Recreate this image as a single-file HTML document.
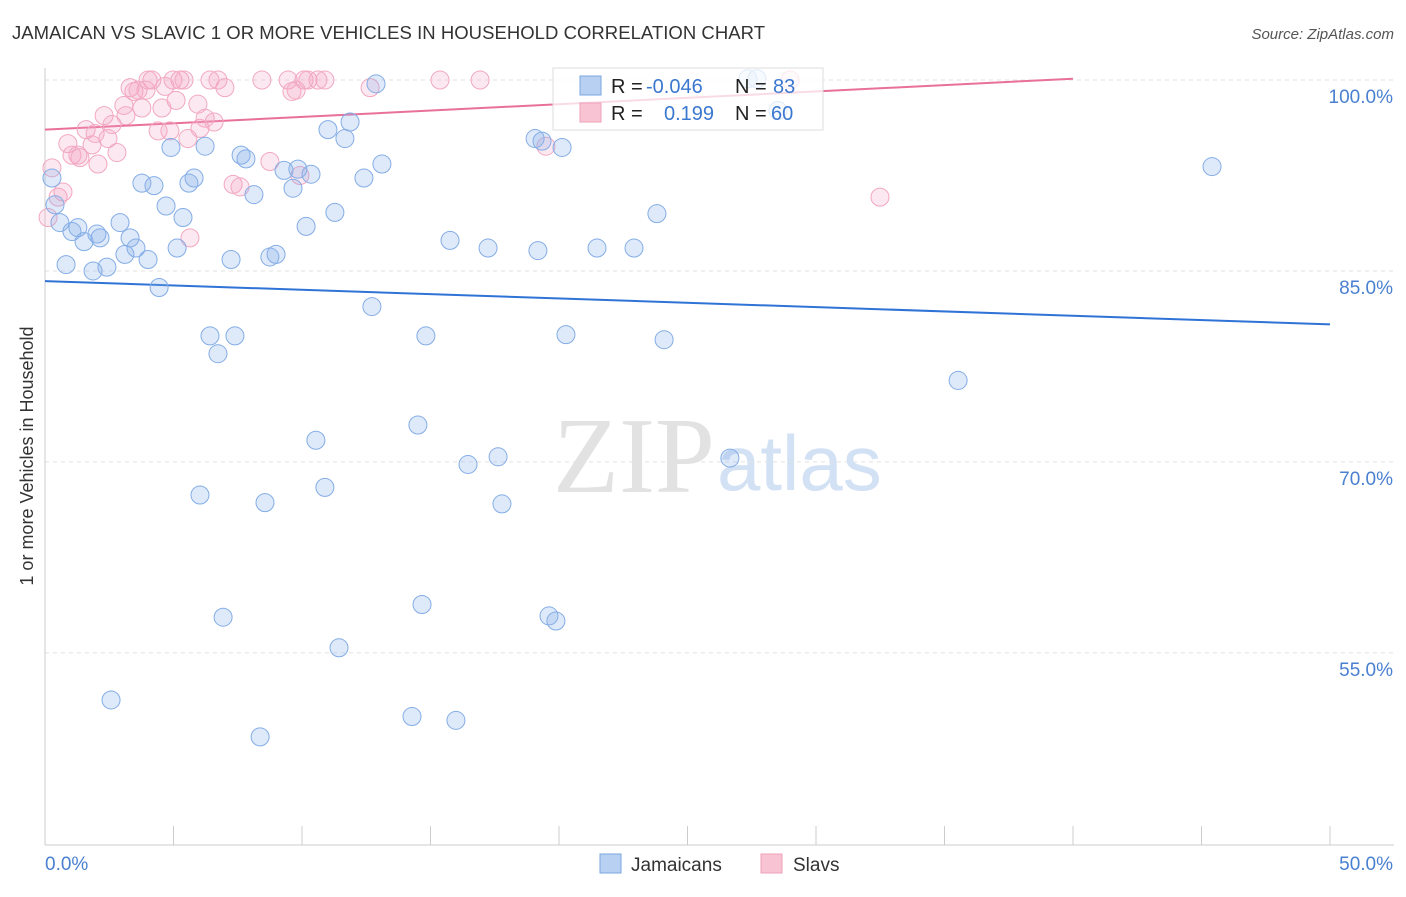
<!DOCTYPE html>
<html><head><meta charset="utf-8"><style>
body{margin:0;background:#fff;font-family:"Liberation Sans",sans-serif}
</style></head><body>
<svg width="1406" height="892" xmlns="http://www.w3.org/2000/svg" font-family="Liberation Sans, sans-serif">
<text x="12" y="39" font-size="18.5" fill="#333" textLength="753">JAMAICAN VS SLAVIC 1 OR MORE VEHICLES IN HOUSEHOLD CORRELATION CHART</text>
<text x="1394" y="39" font-size="15" fill="#555" text-anchor="end" font-style="italic">Source: ZipAtlas.com</text>
<text x="33" y="456" font-size="18" fill="#333" text-anchor="middle" transform="rotate(-90 33 456)">1 or more Vehicles in Household</text>
<text x="715" y="492" font-size="108" fill="#e2e2e2" text-anchor="end" font-family="Liberation Serif, serif">ZIP</text>
<text x="717" y="490" font-size="78" fill="#d3e1f5">atlas</text>
<g id="grid"></g><g id="axes"></g><g id="trend"></g><g id="pts"></g>
<g>
<rect x="553" y="68" width="270" height="62" fill="rgba(255,255,255,0.75)" stroke="#ddd"/>
<rect x="580" y="76" width="21" height="19" fill="#b8d0f2" stroke="#7aa7e0"/>
<rect x="580" y="103" width="21" height="19" fill="#f8c4d3" stroke="#f0a0b8"/>
<text x="611" y="93" font-size="20" fill="#222">R = <tspan fill="#3a78d0" x="646">-0.046</tspan></text>
<text x="735" y="93" font-size="20" fill="#222">N = <tspan fill="#3a78d0" x="773">83</tspan></text>
<text x="611" y="120" font-size="20" fill="#222">R = <tspan fill="#3a78d0" x="664">0.199</tspan></text>
<text x="735" y="120" font-size="20" fill="#222">N = <tspan fill="#3a78d0" x="771">60</tspan></text>
</g>
<g>
<rect x="600" y="854" width="21" height="19" fill="#b8d0f2" stroke="#7aa7e0"/>
<text x="631" y="871" font-size="19" fill="#333">Jamaicans</text>
<rect x="761" y="854" width="21" height="19" fill="#f8c4d3" stroke="#f0a0b8"/>
<text x="793" y="871" font-size="19" fill="#333">Slavs</text>
</g>
</svg>
<script>
const yTicks=[100,85,70,55];
const xTickLabels=["0.0%","50.0%"];
const blueX=[0.27,0.39,0.58,0.82,1.05,1.28,1.52,1.87,2.02,2.14,2.41,2.57,2.92,3.11,3.31,3.54,3.77,4.01,4.24,4.44,4.71,4.90,5.14,5.37,5.60,5.80,6.03,6.23,6.42,6.73,6.93,7.24,7.39,7.63,7.82,8.13,8.37,8.56,8.75,8.99,9.30,9.65,9.84,10.16,10.35,10.54,10.89,11.01,11.28,11.44,11.67,11.87,12.41,12.72,12.88,13.11,14.28,14.51,14.67,14.82,15.76,15.99,16.46,17.24,17.63,17.78,19.07,19.18,19.34,19.61,19.88,20.12,20.27,21.48,22.92,23.81,24.09,26.65,35.53,45.41,27.35,27.70,28.52];
const blueY=[92.3,90.2,88.8,85.5,88.1,88.4,87.3,85.0,87.9,87.6,85.3,51.3,88.8,86.3,87.6,86.8,91.9,85.9,91.7,83.7,90.1,94.7,86.8,89.2,91.9,92.3,67.4,94.8,79.9,78.5,57.8,85.9,79.9,94.1,93.8,91.0,48.4,66.8,86.1,86.3,92.9,91.5,93.0,88.5,92.6,71.7,68.0,96.1,89.6,55.4,95.4,96.7,92.3,82.2,99.7,93.4,50.0,72.9,58.8,79.9,87.4,49.7,69.8,86.8,70.4,66.7,95.4,86.6,95.2,57.9,57.5,94.7,80.0,86.8,86.8,89.5,79.6,70.3,76.4,93.2,100.1,100.1,97.6];
const pinkX=[0.12,0.27,0.51,0.70,0.89,1.05,1.28,1.36,1.60,1.83,1.95,2.06,2.30,2.45,2.61,2.80,3.07,3.15,3.31,3.46,3.62,3.77,3.93,4.01,4.16,4.40,4.55,4.67,4.86,4.98,5.10,5.25,5.41,5.56,5.64,5.95,6.03,6.23,6.42,6.58,6.73,7.00,7.32,7.59,8.44,8.75,9.46,9.61,9.77,9.92,10.08,10.23,10.62,10.89,12.65,15.37,16.93,19.49,32.49,28.99];
const pinkY=[89.2,93.1,90.8,91.2,95.0,94.1,94.1,93.9,96.1,94.9,95.8,93.4,97.2,95.4,96.5,94.3,98.0,97.2,99.4,99.1,99.2,97.8,99.2,100.0,100.0,96.0,97.8,99.5,96.0,100.0,98.4,100.0,100.0,95.4,87.6,98.1,96.2,97.0,100.0,96.7,100.0,99.4,91.8,91.6,100.0,93.6,100.0,99.1,99.2,92.5,100.0,100.0,100.0,100.0,99.4,100.0,100.0,94.8,90.8,100.0];
const blueTrend=[[0,84.2],[50,80.8]];
const pinkTrend=[[0,96.1],[40,100.1]];
const X=v=>45+v*25.7, Y=v=>80+(100-v)*12.73;
const NS="http://www.w3.org/2000/svg";
function mk(t,a,p){const e=document.createElementNS(NS,t);for(const k in a)e.setAttribute(k,a[k]);document.getElementById(p).appendChild(e);return e;}
yTicks.forEach(v=>{
 const l=mk('line',{x1:45,x2:1394,y1:Y(v),y2:Y(v),stroke:'#e2e2e2','stroke-dasharray':'4,4'},'grid');
 
 
 const t=mk('text',{x:1393,y:Y(v)+23,'font-size':19,fill:'#4a80d0','text-anchor':'end'},'grid');
 t.textContent=v.toFixed(1)+'%';
 
 
});
const ax=mk('line',{x1:45,x2:1394,y1:845,y2:845,stroke:'#ccc'},'axes');


const ay=mk('line',{x1:45,x2:45,y1:68,y2:845,stroke:'#ccc'},'axes');


for(let i=0;i<=10;i++){const tk=mk('line',{x1:X(i*5),x2:X(i*5),y1:826,y2:845,stroke:'#ccc'},'axes');
 
 }
[[0,'start'],[50,'end']].forEach((p,i)=>{const t=mk('text',{x:X(p[0])+(i?63:0),y:870,'font-size':19,fill:'#4a80d0','text-anchor':p[1]},'axes');t.textContent=xTickLabels[i];
 
 });
function pts(xs,ys,fill,stroke,name){xs.forEach((x,i)=>{const c=mk('circle',{cx:X(x),cy:Y(ys[i]),r:9,fill:fill,stroke:stroke,'stroke-width':1},'pts');
 
 });}
pts(pinkX,pinkY,'rgba(245,165,195,0.25)','#f2a8c0','slavs-point');
pts(blueX,blueY,'rgba(135,175,235,0.28)','#84ade6','jamaicans-point');
const bt=mk('line',{x1:X(blueTrend[0][0]),y1:Y(blueTrend[0][1]),x2:X(blueTrend[1][0]),y2:Y(blueTrend[1][1]),stroke:'#2f73d6','stroke-width':2},'trend');


const pt=mk('line',{x1:X(pinkTrend[0][0]),y1:Y(pinkTrend[0][1]),x2:X(pinkTrend[1][0]),y2:Y(pinkTrend[1][1]),stroke:'#e8709a','stroke-width':2},'trend');


</script>
</body></html>
